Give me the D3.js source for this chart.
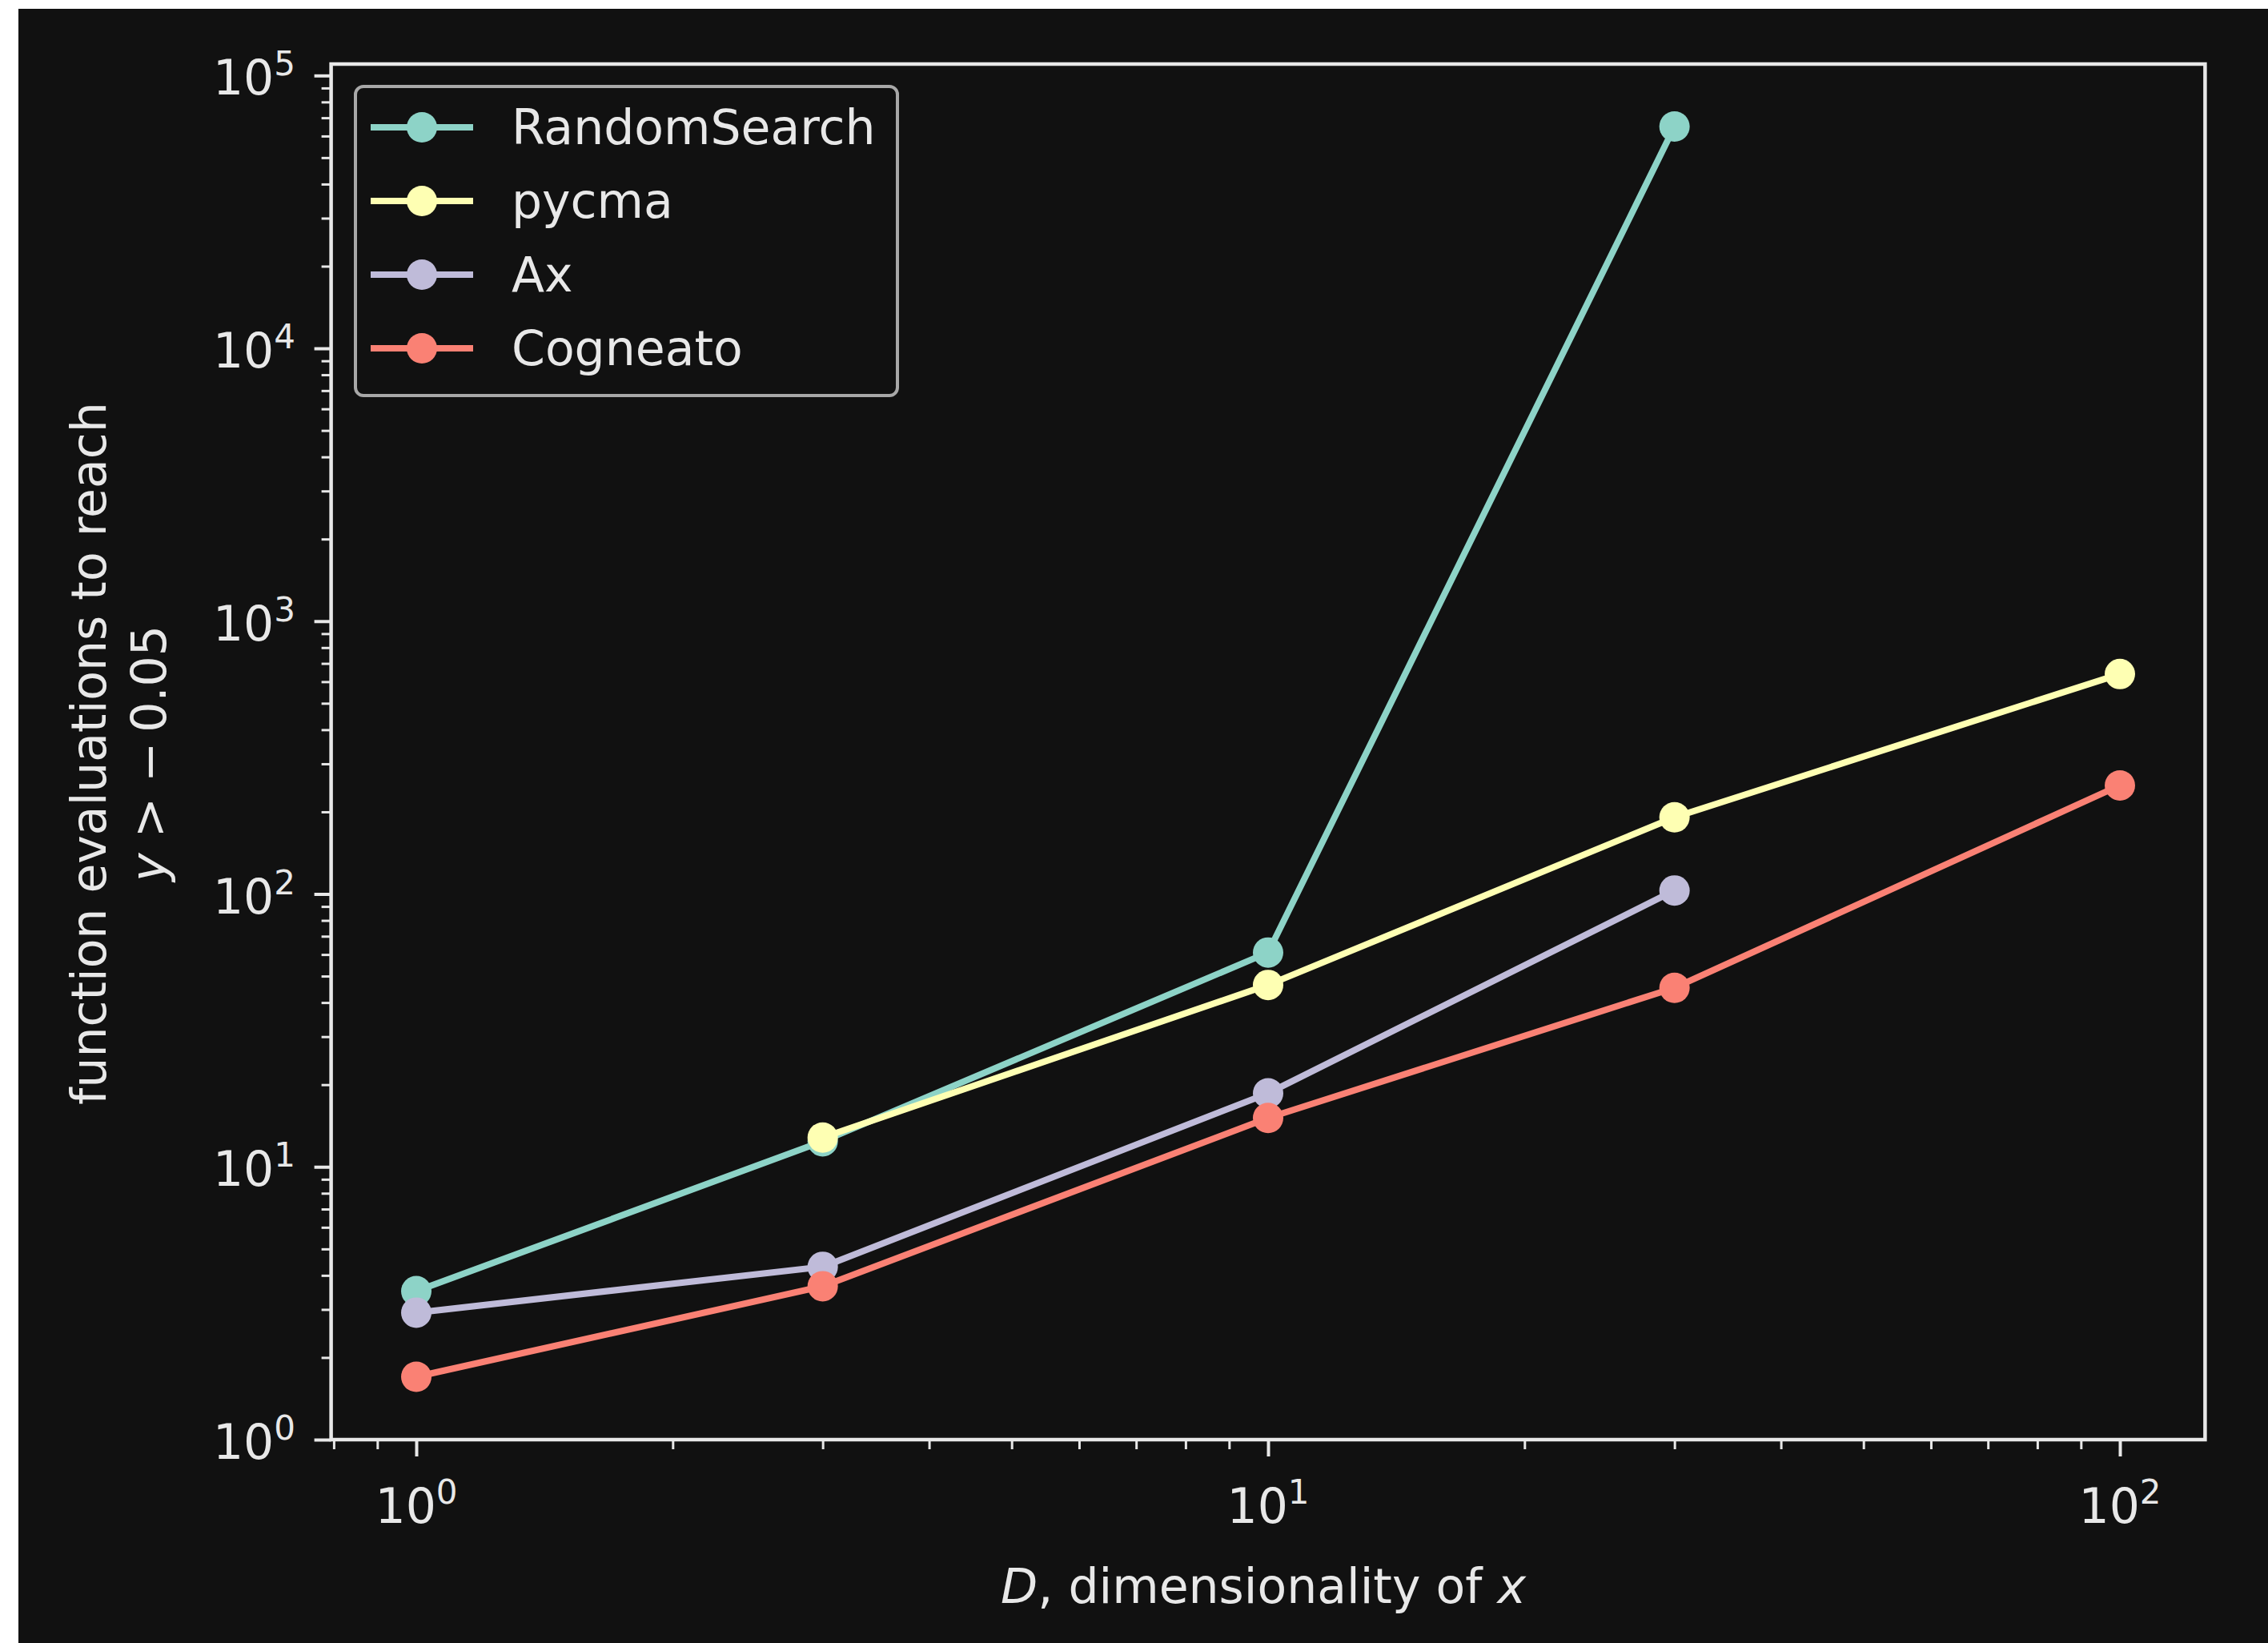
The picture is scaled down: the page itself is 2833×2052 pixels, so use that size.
<!DOCTYPE html>
<html><head><meta charset="utf-8">
<script src="https://cdn.jsdelivr.net/npm/d3@7"></script>
<style>
body{margin:0;background:#ffffff;}
text{font-family:"DejaVu Sans",sans-serif;}
</style>
</head><body>
<svg id="chart" width="2833" height="2052"></svg>
<script>
// ---- data ----
const seriesNames = ["RandomSearch", "pycma", "Ax", "Cogneato"];
const seriesColors = ["#8dd3c7", "#feffb3", "#bfbbd9", "#fa8174"];
const randomSearchX = [1, 3, 10, 30];
const randomSearchY = [3.5, 12.4, 61, 65000];
const pycmaX = [3, 10, 30, 100];
const pycmaY = [12.8, 46.4, 191, 640];
const axX = [1, 3, 10, 30];
const axY = [2.92, 4.3, 18.6, 103];
const cogneatoX = [1, 3, 10, 30, 100];
const cogneatoY = [1.70, 3.65, 15.1, 45.3, 250];
const xMajorTicks = [1, 10, 100];
const xMajorExp = ["0", "1", "2"];
const yMajorTicks = [1, 10, 100, 1000, 10000, 100000];
const yMajorExp = ["0", "1", "2", "3", "4", "5"];

const seriesX = [randomSearchX, pycmaX, axX, cogneatoX];
const seriesY = [randomSearchY, pycmaY, axY, cogneatoY];

// ---- layout ----
const W = 2833, H = 2052;
const L = 413.6, R = 2754.4, T = 80, B = 1798;
const FS = 60;
const fg = "#e8e8e8";

const svg = d3.select("#chart");
svg.append("rect").attr("x", 23).attr("y", 11).attr("width", W - 23).attr("height", H - 11).attr("fill", "#111111");

const x = d3.scaleLog().domain([Math.pow(10, -0.1), Math.pow(10, 2.1)]).range([L, R]);
const y = d3.scaleLog().domain([1, Math.pow(10, 5.042)]).range([B, T]);

function minorTicks(scale) {
  const out = [];
  const [d0, d1] = scale.domain();
  for (let e = -1; e <= 5; e++) {
    for (let m = 2; m <= 9; m++) {
      const v = m * Math.pow(10, e);
      if (v >= d0 * 0.9999 && v <= d1 * 1.0001) out.push(v);
    }
  }
  return out;
}

const xMinor = minorTicks(x);
const yMinor = minorTicks(y);

function styleAxis(g, w) {
  g.select(".domain").remove();
  g.selectAll("line").attr("stroke", fg).attr("stroke-width", w);
  g.selectAll("text").remove();
}

svg.append("g").attr("transform", `translate(0,${B})`)
  .call(d3.axisBottom(x).tickValues(xMinor).tickSize(12).tickFormat(""))
  .call(g => styleAxis(g, 3));
svg.append("g").attr("transform", `translate(0,${B})`)
  .call(d3.axisBottom(x).tickValues(xMajorTicks).tickSize(21).tickFormat(""))
  .call(g => styleAxis(g, 4));
svg.append("g").attr("transform", `translate(${L},0)`)
  .call(d3.axisLeft(y).tickValues(yMinor).tickSize(12).tickFormat(""))
  .call(g => styleAxis(g, 3));
svg.append("g").attr("transform", `translate(${L},0)`)
  .call(d3.axisLeft(y).tickValues(yMajorTicks).tickSize(21).tickFormat(""))
  .call(g => styleAxis(g, 4));

// tick labels
function powLabel(sel, exp) {
  sel.append("tspan").text("10");
  sel.append("tspan").attr("font-size", FS * 0.7).attr("dy", -24).text(exp);
}
xMajorTicks.forEach((v, i) => {
  const t = svg.append("text").attr("x", x(v)).attr("y", 1902)
    .attr("text-anchor", "middle").attr("font-size", FS).attr("fill", fg);
  powLabel(t, xMajorExp[i]);
});
yMajorTicks.forEach((v, i) => {
  const t = svg.append("text").attr("x", 369).attr("y", y(v) + 24)
    .attr("text-anchor", "end").attr("font-size", FS).attr("fill", fg);
  powLabel(t, yMajorExp[i]);
});

// series
const line = d3.line().x(d => x(d[0])).y(d => y(d[1]));
seriesNames.forEach((name, i) => {
  const pts = seriesX[i].map((xv, j) => [xv, seriesY[i][j]]);
  const g = svg.append("g");
  g.append("path").datum(pts).attr("d", line).attr("fill", "none")
    .attr("stroke", seriesColors[i]).attr("stroke-width", 8).attr("stroke-linejoin", "round");
  g.selectAll("circle").data(pts).enter().append("circle")
    .attr("cx", d => x(d[0])).attr("cy", d => y(d[1])).attr("r", 19)
    .attr("fill", seriesColors[i]);
});

// spines
svg.append("rect").attr("x", L).attr("y", T).attr("width", R - L).attr("height", B - T)
  .attr("fill", "none").attr("stroke", fg).attr("stroke-width", 4.5);

// legend
const lg = svg.append("g");
lg.append("rect").attr("x", 444).attr("y", 108).attr("width", 677).attr("height", 386)
  .attr("rx", 10).attr("fill", "#111111").attr("fill-opacity", 0.8)
  .attr("stroke", "#a8a8a8").attr("stroke-width", 4);
seriesNames.forEach((name, i) => {
  const cy = 159 + 92 * i;
  lg.append("line").attr("x1", 463).attr("x2", 591).attr("y1", cy).attr("y2", cy)
    .attr("stroke", seriesColors[i]).attr("stroke-width", 8);
  lg.append("circle").attr("cx", 527).attr("cy", cy).attr("r", 19).attr("fill", seriesColors[i]);
  lg.append("text").attr("x", 639).attr("y", cy + 21).attr("font-size", FS).attr("fill", fg).text(name);
});

// axis labels
const xl = svg.append("text").attr("x", (L + R) / 2 - 6).attr("y", 2002)
  .attr("text-anchor", "middle").attr("font-size", FS).attr("fill", fg);
xl.append("tspan").attr("font-style", "italic").text("D");
xl.append("tspan").text(", dimensionality of ");
xl.append("tspan").attr("font-style", "italic").text("x");

const yl = svg.append("g").attr("transform", `translate(0,${(T + B) / 2 + 2}) rotate(-90)`);
yl.append("text").attr("x", 0).attr("y", 132).attr("text-anchor", "middle")
  .attr("font-size", FS).attr("fill", fg).text("function evaluations to reach");
const y2 = yl.append("text").attr("x", 0).attr("y", 207).attr("text-anchor", "middle")
  .attr("font-size", FS).attr("fill", fg);
y2.append("tspan").attr("font-style", "italic").text("y");
y2.append("tspan").text(" > \u2212\u20090.05");
</script>
</body></html>
